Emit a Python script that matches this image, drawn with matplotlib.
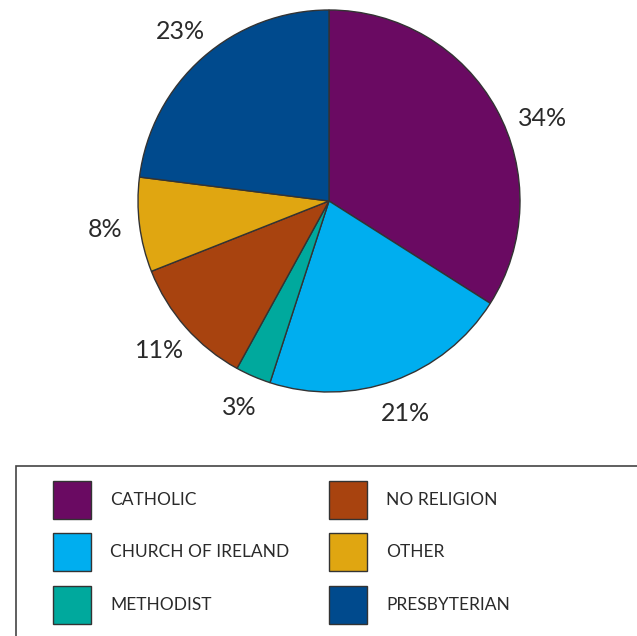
import matplotlib
matplotlib.use("Agg")
import matplotlib.pyplot as plt
import matplotlib.patches as mpatches
import numpy as np

categories = ["CATHOLIC", "CHURCH OF IRELAND", "METHODIST",
              "NO RELIGION", "OTHER", "PRESBYTERIAN"]
shares = [34, 21, 3, 11, 8, 23]
colors = ["#6A0A62", "#00AEEF", "#00A99D", "#A8430F", "#E0A611", "#004A8D"]

TEXT = "#2A2A2A"
EDGE = "#333333"
W, H = 637, 636
plt.rcParams["font.family"] = ["Lato", "DejaVu Sans"]

fig = plt.figure(figsize=(W / 100, H / 100), dpi=100, facecolor="white")

# pie: centre (329, 201) px, radius 191 px
cx, cy, r = 329, 201, 191
ax = fig.add_axes([(cx - r) / W, (H - cy - r) / H, 2 * r / W, 2 * r / H])
wedges, texts = ax.pie(
    shares, colors=colors, startangle=90, counterclock=False,
    labels=[f"{s}%" for s in shares], labeldistance=1.18,
    wedgeprops=dict(edgecolor=EDGE, linewidth=1.0),
    textprops=dict(fontsize=18, color=TEXT),
)
for t in texts:
    t.set_horizontalalignment("center")
    t.set_verticalalignment("center")
# the 34% label sits a little lower than the slice middle
texts[0].set_position((1.2 * np.cos(np.radians(21)), 1.2 * np.sin(np.radians(21))))
ax.set_xlim(-1, 1)
ax.set_ylim(-1, 1)
ax.set_aspect("equal")

# legend box, cut off by right and bottom edges
fig.add_artist(mpatches.Rectangle((16 / W, -0.1), 1.0, (H - 466) / H + 0.1,
                                  transform=fig.transFigure, fill=False,
                                  edgecolor="#444444", linewidth=1.2))
col_x = [53, 329]
row_y = [500, 552, 605]
sq = 38
for i, (name, col) in enumerate(zip(categories, colors)):
    x0 = col_x[i // 3]
    yc = row_y[i % 3]
    fig.add_artist(mpatches.Rectangle((x0 / W, (H - yc - sq / 2) / H), sq / W, sq / H,
                                      transform=fig.transFigure, facecolor=col,
                                      edgecolor=EDGE, linewidth=1.0))
    fig.text((x0 + 57) / W, (H - yc) / H, name, fontsize=12.5, color=TEXT,
             ha="left", va="center")

plt.savefig("out.png", dpi=100, facecolor="white")
